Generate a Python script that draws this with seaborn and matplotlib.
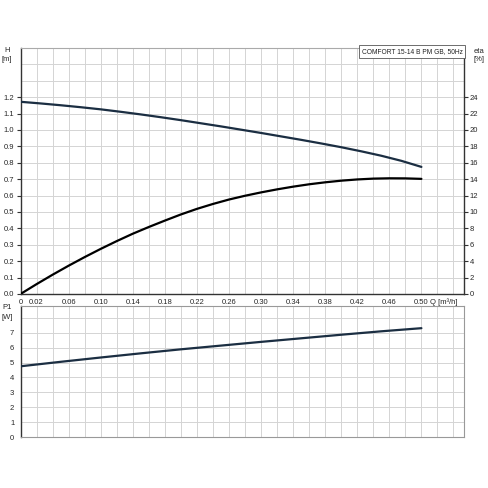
import matplotlib
matplotlib.use("Agg")
import matplotlib.pyplot as plt
import seaborn as sns
import pandas as pd
import numpy as np

# ---- data ----
q_h = [0.0, 0.025, 0.05, 0.075, 0.10, 0.125, 0.15, 0.175, 0.20, 0.225, 0.25,
       0.275, 0.30, 0.325, 0.35, 0.375, 0.40, 0.425, 0.45, 0.475, 0.50]
h_m = [1.172, 1.162, 1.151, 1.139, 1.126, 1.111, 1.095, 1.078, 1.060, 1.041, 1.022,
       1.002, 0.982, 0.961, 0.940, 0.918, 0.895, 0.870, 0.843, 0.812, 0.775]

q_eta = [0.0, 0.02, 0.04, 0.06, 0.08, 0.10, 0.12, 0.14, 0.16, 0.18, 0.20, 0.22, 0.24,
         0.26, 0.28, 0.30, 0.32, 0.34, 0.36, 0.38, 0.40, 0.42, 0.44, 0.46, 0.48, 0.50]
eta_pct = [0.0, 1.2, 2.35, 3.45, 4.5, 5.5, 6.45, 7.35, 8.17, 8.95, 9.7, 10.38, 10.98,
           11.52, 11.98, 12.39, 12.76, 13.09, 13.38, 13.62, 13.82, 13.97, 14.07, 14.11,
           14.10, 14.04]

q_p = [0.0, 0.05, 0.10, 0.15, 0.20, 0.25, 0.30, 0.35, 0.40, 0.45, 0.50]
p1_w = [4.75, 5.05, 5.34, 5.62, 5.89, 6.14, 6.39, 6.63, 6.87, 7.10, 7.31]

x_tick_pos = [0.0, 0.02, 0.04, 0.06, 0.08, 0.10, 0.12, 0.14, 0.16, 0.18, 0.20, 0.22, 0.24,
              0.26, 0.28, 0.30, 0.32, 0.34, 0.36, 0.38, 0.40, 0.42, 0.44, 0.46, 0.48,
              0.50, 0.52, 0.54]
x_tick_text = ["0", "0.02", "", "0.06", "", "0.10", "", "0.14", "", "0.18", "", "0.22", "",
               "0.26", "", "0.30", "", "0.34", "", "0.38", "", "0.42", "", "0.46", "",
               "0.50", "", ""]
h_ticks = [0.0, 0.1, 0.2, 0.3, 0.4, 0.5, 0.6, 0.7, 0.8, 0.9, 1.0, 1.1, 1.2]
h_grid = [0.1, 0.2, 0.3, 0.4, 0.5, 0.6, 0.7, 0.8, 0.9, 1.0, 1.1, 1.2, 1.3, 1.4]
eta_ticks = [0, 2, 4, 6, 8, 10, 12, 14, 16, 18, 20, 22, 24]
p_ticks = [0, 1, 2, 3, 4, 5, 6, 7]
p_grid = [1, 2, 3, 4, 5, 6, 7, 8]
title = "COMFORT 15-14 B PM GB, 50Hz"

df_h = pd.DataFrame({"Q": q_h, "H": h_m})
df_eta = pd.DataFrame({"Q": q_eta, "eta": eta_pct})
df_p = pd.DataFrame({"Q": q_p, "P1": p1_w})

sns.set_style("white")
plt.rcParams["font.family"] = ["Liberation Sans", "DejaVu Sans"]
FS = 5.5
GRID = "#d4d4d4"
DARK = "#333333"
LINE = "#1b2e42"

fig = plt.figure(figsize=(4.88, 4.88), dpi=100)
W, Hh = 488.0, 488.0
left, right = 20.5, 463.5
ax = fig.add_axes([left / W, 1 - 294 / Hh, (right - left) / W, (294 - 48) / Hh])
axp = fig.add_axes([left / W, 1 - 437 / Hh, (right - left) / W, (437 - 306) / Hh])

xmax = 0.5525

# ---- top axes ----
for yv in h_grid:
    ax.axhline(yv, color=GRID, lw=0.7, zorder=0)
sns.lineplot(data=df_h, x="Q", y="H", ax=ax, color=LINE, lw=1.6, zorder=5)
ax.set_xlim(0, xmax)
ax.set_ylim(0, 1.5)
ax.set_xticks(x_tick_pos)
ax.set_xticklabels(x_tick_text)
ax.tick_params(axis="x", direction="inout", length=4, width=0.8,
               color=DARK, labelsize=FS, pad=1.5)
ax.set_yticks(h_ticks)
ax.set_yticklabels([f"{v:.1f}" for v in h_ticks])
ax.tick_params(axis="y", direction="out", length=3, width=0.8,
               color=DARK, labelsize=FS, pad=1.5)
ax.grid(True, axis="x", color=GRID, lw=0.7)
ax.grid(False, axis="y")
ax.set_axisbelow(True)
ax.set_xlabel("")
ax.set_ylabel("")
for s in ["left", "bottom", "right"]:
    ax.spines[s].set_color(DARK)
    ax.spines[s].set_linewidth(1.0)
ax.spines["top"].set_color("#aaaaaa")
ax.spines["top"].set_linewidth(0.8)

ax2 = ax.twinx()
sns.lineplot(data=df_eta, x="Q", y="eta", ax=ax2, color="black", lw=1.6, zorder=5)
ax2.set_ylim(0, 30)
ax2.set_xlim(0, xmax)
ax2.set_yticks(eta_ticks)
ax2.set_yticklabels([str(v) for v in eta_ticks])
ax2.tick_params(axis="y", direction="out", length=3, width=0.8, color=DARK,
                labelsize=FS, pad=1.5)
ax2.set_ylabel("")
ax2.set_xlabel("")
ax2.grid(False)
for s in ax2.spines.values():
    s.set_visible(False)

ax2.text(0.998, 1.0, title, transform=ax.transAxes, ha="right", va="top",
         fontsize=4.8, color="#222222",
         bbox=dict(boxstyle="square,pad=0.4", fc="white", ec="#555555", lw=0.6),
         zorder=10)
ax.text(-0.031, 0.99, "H", transform=ax.transAxes, ha="center", va="center", fontsize=FS)
ax.text(-0.031, 0.955, "[m]", transform=ax.transAxes, ha="center", va="center", fontsize=FS)
ax.text(1.035, 0.985, "eta", transform=ax.transAxes, ha="center", va="center", fontsize=FS)
ax.text(1.035, 0.952, "[%]", transform=ax.transAxes, ha="center", va="center", fontsize=FS)
ax.text(0.955, -0.032, "Q [m\u00b3/h]", transform=ax.transAxes, ha="center", va="center",
        fontsize=FS)

# ---- bottom axes ----
for yv in p_grid:
    axp.axhline(yv, color=GRID, lw=0.7, zorder=0)
sns.lineplot(data=df_p, x="Q", y="P1", ax=axp, color=LINE, lw=1.6, zorder=5)
axp.set_xlim(0, xmax)
axp.set_ylim(0, 8.8)
axp.set_xticks(x_tick_pos)
axp.set_xticklabels([])
axp.tick_params(axis="x", length=0)
axp.set_yticks(p_ticks)
axp.set_yticklabels([str(v) for v in p_ticks])
axp.tick_params(axis="y", direction="out", length=3, width=0.8,
                color=DARK, labelsize=FS, pad=1.5)
axp.grid(True, axis="x", color=GRID, lw=0.7)
axp.grid(False, axis="y")
axp.set_axisbelow(True)
axp.set_xlabel("")
axp.set_ylabel("")
axp.spines["left"].set_color(DARK)
axp.spines["left"].set_linewidth(1.0)
for s in ["top", "right", "bottom"]:
    axp.spines[s].set_color("#999999")
    axp.spines[s].set_linewidth(0.8)
axp.text(-0.031, 0.985, "P1", transform=axp.transAxes, ha="center", va="center", fontsize=FS)
axp.text(-0.031, 0.915, "[W]", transform=axp.transAxes, ha="center", va="center", fontsize=FS)

fig.savefig("out.png", dpi=100, facecolor="white")
